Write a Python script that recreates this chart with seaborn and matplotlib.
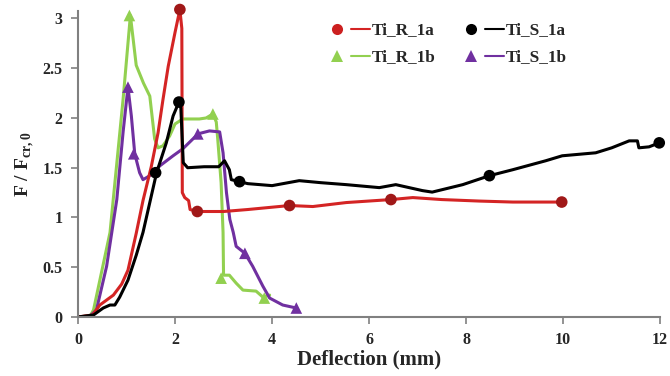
import numpy as np
import pandas as pd
import matplotlib
matplotlib.use('Agg')
import matplotlib.pyplot as plt
import seaborn as sns
from matplotlib.lines import Line2D
from matplotlib.legend_handler import HandlerTuple

# curves (deflection mm, F / Fcr,0)
r1a_x = [0, 0.3, 0.45, 0.73, 0.9, 1.03, 1.2, 1.34, 1.51, 1.65, 1.75, 1.86, 2.0, 2.1, 2.14, 2.15,
         2.2, 2.28, 2.31, 2.46, 3.0, 3.5, 4.36, 4.84, 5.53, 6.45, 6.9, 7.5, 8.27, 8.96, 9.97]
r1a_y = [0.0, 0.02, 0.12, 0.22, 0.33, 0.47, 0.84, 1.17, 1.51, 1.85, 2.18, 2.52, 2.86, 3.09, 2.9, 1.25,
         1.2, 1.17, 1.08, 1.06, 1.06, 1.08, 1.12, 1.11, 1.15, 1.18, 1.2, 1.18, 1.165, 1.155, 1.155]
r1a_mx = [2.1, 2.46, 4.36, 6.45, 9.97]
r1a_my = [3.09, 1.06, 1.12, 1.18, 1.155]

s1a_x = [0, 0.32, 0.52, 0.66, 0.76, 0.86, 1.03, 1.2, 1.34, 1.48, 1.62, 1.82, 1.96, 2.08, 2.12,
         2.17, 2.26, 2.6, 2.9, 3.02, 3.12, 3.16, 3.33, 3.5, 4.0, 4.56, 5.0, 5.53, 6.21, 6.55,
         7.1, 7.3, 7.93, 8.48, 8.96, 9.64, 9.98, 10.67, 11.0, 11.36, 11.53, 11.56, 11.77, 11.98]
s1a_y = [0.0, 0.02, 0.09, 0.12, 0.12, 0.2, 0.37, 0.62, 0.85, 1.15, 1.45, 1.75, 2.02, 2.16, 2.1,
         1.55, 1.5, 1.51, 1.51, 1.57, 1.48, 1.38, 1.36, 1.34, 1.32, 1.37, 1.35, 1.33, 1.3, 1.33,
         1.27, 1.255, 1.33, 1.42, 1.48, 1.57, 1.62, 1.65, 1.7, 1.77, 1.77, 1.7, 1.71, 1.75]
s1a_mx = [1.6, 2.08, 3.33, 8.48, 11.98]
s1a_my = [1.45, 2.16, 1.36, 1.42, 1.75]

r1b_x = [0, 0.25, 0.32, 0.66, 0.93, 1.08, 1.2, 1.35, 1.48, 1.58, 1.65, 1.75, 1.89, 2.0,
         2.16, 2.5, 2.64, 2.78, 2.85, 2.88, 2.95, 2.99, 3.0, 3.12, 3.26, 3.4, 3.67, 3.81, 3.95]
r1b_y = [0.0, 0.01, 0.07, 0.85, 2.19, 3.03, 2.53, 2.35, 2.22, 1.79, 1.7, 1.72, 1.82, 1.94,
         1.99, 1.99, 2.0, 2.04, 1.96, 1.79, 1.35, 0.85, 0.42, 0.42, 0.34, 0.27, 0.26, 0.2, 0.22]
r1b_mx = [1.06, 2.78, 2.95, 3.84]
r1b_my = [3.03, 2.04, 0.39, 0.19]

s1b_x = [0, 0.25, 0.38, 0.59, 0.8, 0.93, 1.03, 1.1, 1.17, 1.27, 1.34, 1.48, 1.69, 1.96, 2.16,
         2.37, 2.47, 2.71, 2.92, 2.99, 3.06, 3.13, 3.2, 3.26, 3.44, 3.6, 3.81, 3.95, 4.22, 4.5]
s1b_y = [0.0, 0.01, 0.07, 0.51, 1.18, 1.86, 2.31, 2.02, 1.64, 1.45, 1.38, 1.42, 1.52, 1.62, 1.69,
         1.79, 1.84, 1.87, 1.86, 1.65, 1.25, 0.98, 0.85, 0.71, 0.64, 0.51, 0.31, 0.19, 0.12, 0.09]
s1b_mx = [1.03, 1.15, 2.47, 3.44, 4.5]
s1b_my = [2.31, 1.64, 1.84, 0.64, 0.09]

x_ticks = [0, 2, 4, 6, 8, 10, 12]
y_ticks = [0, 0.5, 1, 1.5, 2, 2.5, 3]
y_tick_labels = ['0', '0.5', '1', '1.5', '2', '2.5', '3']

sns.set_style('white')
plt.rcParams['font.family'] = ['Liberation Serif', 'DejaVu Serif']
plt.rcParams['font.weight'] = 'bold'
plt.rcParams['mathtext.fontset'] = 'custom'
plt.rcParams['mathtext.rm'] = 'Liberation Serif:bold'
plt.rcParams['mathtext.bf'] = 'Liberation Serif:bold'

series = [
    ('Ti_R_1a', r1a_x, r1a_y, r1a_mx, r1a_my, '#D42424', '#A01818', 'o'),
    ('Ti_R_1b', r1b_x, r1b_y, r1b_mx, r1b_my, '#92D050', '#92D050', '^'),
    ('Ti_S_1a', s1a_x, s1a_y, s1a_mx, s1a_my, '#000000', '#000000', 'o'),
    ('Ti_S_1b', s1b_x, s1b_y, s1b_mx, s1b_my, '#7030A0', '#7030A0', '^'),
]

fig = plt.figure(figsize=(6.7, 3.76), dpi=100)
ax = fig.add_axes([0.1164, 0.157, 0.869, 0.815])

draw_order = ['Ti_R_1b', 'Ti_S_1b', 'Ti_R_1a', 'Ti_S_1a']
lookup = {s[0]: s for s in series}
for name in draw_order:
    _, x, y, mx, my, lc, mc, mk = lookup[name]
    df = pd.DataFrame({'x': x, 'y': y})
    sns.lineplot(data=df, x='x', y='y', ax=ax, color=lc, lw=2.2, sort=False,
                 estimator=None, zorder=2)
    dm = pd.DataFrame({'x': mx, 'y': my})
    sns.scatterplot(data=dm, x='x', y='y', ax=ax, color=mc, marker=mk, s=70,
                    edgecolor='none', zorder=3, clip_on=False)

ax.set_xlim(0, 12)
ax.set_ylim(0, 3.08)
ax.set_xticks(x_ticks)
ax.set_xticklabels([str(t) for t in x_ticks])
ax.set_yticks(y_ticks)
ax.set_yticklabels(y_tick_labels)
ax.tick_params(axis='both', which='major', labelsize=11.5, direction='out',
               length=5, width=1.2, color='#808080', bottom=True, left=True)
ax.tick_params(axis='x', pad=6)
ax.tick_params(axis='y', pad=6)
for lab in ax.get_xticklabels() + ax.get_yticklabels():
    lab.set_fontweight('bold')

for side in ['top', 'right']:
    ax.spines[side].set_visible(False)
for side in ['left', 'bottom']:
    ax.spines[side].set_color('#808080')
    ax.spines[side].set_linewidth(1.5)

ax.set_xlabel('Deflection (mm)', fontsize=15, fontweight='bold', labelpad=1)
ax.set_ylabel(r'F / F$_{\mathrm{cr,0}}$', fontsize=14, fontweight='bold', labelpad=4)

handles = []
labels = []
for name, x, y, mx, my, lc, mc, mk in series:
    h_m = Line2D([], [], ls='none', marker=mk, color=('#CC2020' if name == 'Ti_R_1a' else mc),
                 markersize=8, markeredgewidth=0)
    h_l = Line2D([], [], color=lc, lw=1.5)
    handles.append((h_m, h_l))
    labels.append(name)

leg = ax.legend(handles, labels, ncol=2, loc='upper left', bbox_to_anchor=(0.408, 1.0),
                frameon=False, handlelength=2.5, handletextpad=0.1, columnspacing=1.5,
                labelspacing=0.65, borderpad=0.2,
                prop={'family': 'Liberation Serif', 'weight': 'bold', 'size': 12.3},
                handler_map={tuple: HandlerTuple(ndivide=None, pad=0.3)})

fig.savefig('out.png', dpi=100)
